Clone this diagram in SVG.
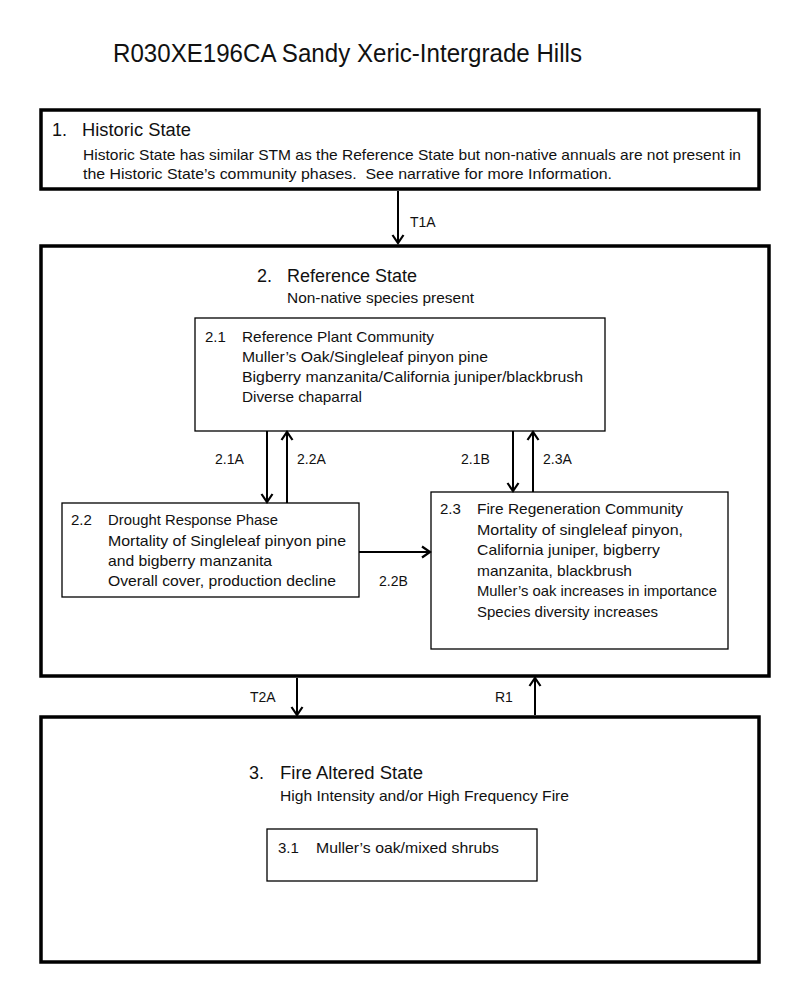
<svg xmlns="http://www.w3.org/2000/svg" width="800" height="984" viewBox="0 0 800 984">
<style>
text{font-family:"Liberation Sans",Arial,sans-serif;fill:#111}
.t{font-size:15px}
.h{font-size:18px}
.l{font-size:14px}
.state{fill:#fff;stroke:#000;stroke-width:3.5}
.phase{fill:#fff;stroke:#000;stroke-width:1.3}
.c{stroke:#000;stroke-width:2;fill:none}
</style>
<defs>
<marker id="ah" markerUnits="userSpaceOnUse" viewBox="-10 -7 12 14" markerWidth="12" markerHeight="14" refX="0" refY="0" orient="auto">
<path d="M-8,-5.5 L0,0 L-8,5.5" fill="none" stroke="#000" stroke-width="2.2"/>
</marker>
</defs>
<rect width="800" height="984" fill="#fff"/>
<text x="113" y="62" font-size="25" textLength="469" lengthAdjust="spacingAndGlyphs">R030XE196CA Sandy Xeric-Intergrade Hills</text>

<g id="state1">
<rect class="state" x="41" y="110" width="718" height="79"/>
<text class="h" x="52" y="136">1.</text>
<text class="h" x="82" y="136" textLength="109" lengthAdjust="spacingAndGlyphs">Historic State</text>
<text class="t" x="83" y="160" textLength="658" lengthAdjust="spacingAndGlyphs">Historic State has similar STM as the Reference State but non-native annuals are not present in</text>
<text class="t" x="83" y="179" textLength="529" lengthAdjust="spacingAndGlyphs" xml:space="preserve">the Historic State’s community phases.  See narrative for more Information.</text>
</g>

<g id="state2">
<rect class="state" x="41" y="246" width="728" height="430"/>
<text class="h" x="257" y="282">2.</text>
<text class="h" x="287" y="282" textLength="130" lengthAdjust="spacingAndGlyphs">Reference State</text>
<text class="t" x="287" y="303" textLength="187" lengthAdjust="spacingAndGlyphs">Non-native species present</text>
</g>

<g id="phase21">
<rect class="phase" x="195" y="318" width="410" height="113"/>
<text class="t" x="205" y="342">2.1</text>
<text class="t" x="242" y="342" textLength="192" lengthAdjust="spacingAndGlyphs">Reference Plant Community</text>
<text class="t" x="242" y="362" textLength="246" lengthAdjust="spacingAndGlyphs">Muller’s Oak/Singleleaf pinyon pine</text>
<text class="t" x="242" y="382" textLength="341" lengthAdjust="spacingAndGlyphs">Bigberry manzanita/California juniper/blackbrush</text>
<text class="t" x="242" y="402" textLength="120" lengthAdjust="spacingAndGlyphs">Diverse chaparral</text>
</g>

<g id="phase22">
<rect class="phase" x="62" y="503" width="297" height="94"/>
<text class="t" x="71" y="525">2.2</text>
<text class="t" x="108" y="525" textLength="170" lengthAdjust="spacingAndGlyphs">Drought Response Phase</text>
<text class="t" x="108" y="546" textLength="238" lengthAdjust="spacingAndGlyphs">Mortality of Singleleaf pinyon pine</text>
<text class="t" x="108" y="566" textLength="164" lengthAdjust="spacingAndGlyphs">and bigberry manzanita</text>
<text class="t" x="108" y="586" textLength="228" lengthAdjust="spacingAndGlyphs">Overall cover, production decline</text>
</g>

<g id="phase23">
<rect class="phase" x="431" y="492" width="297" height="157"/>
<text class="t" x="440" y="514">2.3</text>
<text class="t" x="477" y="514" textLength="206" lengthAdjust="spacingAndGlyphs">Fire Regeneration Community</text>
<text class="t" x="477" y="535" textLength="206" lengthAdjust="spacingAndGlyphs">Mortality of singleleaf pinyon,</text>
<text class="t" x="477" y="555" textLength="183" lengthAdjust="spacingAndGlyphs">California juniper, bigberry</text>
<text class="t" x="477" y="576" textLength="155" lengthAdjust="spacingAndGlyphs">manzanita, blackbrush</text>
<text class="t" x="477" y="596" textLength="240" lengthAdjust="spacingAndGlyphs">Muller’s oak increases in importance</text>
<text class="t" x="477" y="617" textLength="181" lengthAdjust="spacingAndGlyphs">Species diversity increases</text>
</g>

<g id="state3">
<rect class="state" x="41" y="717" width="718" height="245"/>
<text class="h" x="249" y="779">3.</text>
<text class="h" x="280" y="779" textLength="143" lengthAdjust="spacingAndGlyphs">Fire Altered State</text>
<text class="t" x="280" y="801" textLength="289" lengthAdjust="spacingAndGlyphs">High Intensity and/or High Frequency Fire</text>
</g>

<g id="phase31">
<rect class="phase" x="267" y="829" width="270" height="52"/>
<text class="t" x="278" y="853">3.1</text>
<text class="t" x="316" y="853" textLength="183" lengthAdjust="spacingAndGlyphs">Muller’s oak/mixed shrubs</text>
</g>

<g id="connectors">
<line class="c" x1="398" y1="191" x2="398" y2="243" marker-end="url(#ah)"/>
<text class="l" x="410" y="227">T1A</text>
<line class="c" x1="267" y1="431" x2="267" y2="502" marker-end="url(#ah)"/>
<text class="l" x="215" y="464">2.1A</text>
<line class="c" x1="287" y1="503" x2="287" y2="432" marker-end="url(#ah)"/>
<text class="l" x="297" y="464">2.2A</text>
<line class="c" x1="513" y1="431" x2="513" y2="491" marker-end="url(#ah)"/>
<text class="l" x="461" y="464">2.1B</text>
<line class="c" x1="533" y1="492" x2="533" y2="432" marker-end="url(#ah)"/>
<text class="l" x="543" y="464">2.3A</text>
<line class="c" x1="359" y1="552" x2="430" y2="552" marker-end="url(#ah)"/>
<text class="l" x="379" y="586">2.2B</text>
<line class="c" x1="297" y1="678" x2="297" y2="715" marker-end="url(#ah)"/>
<text class="l" x="250" y="702">T2A</text>
<line class="c" x1="535" y1="715" x2="535" y2="678" marker-end="url(#ah)"/>
<text class="l" x="495" y="702">R1</text>
</g>
</svg>
